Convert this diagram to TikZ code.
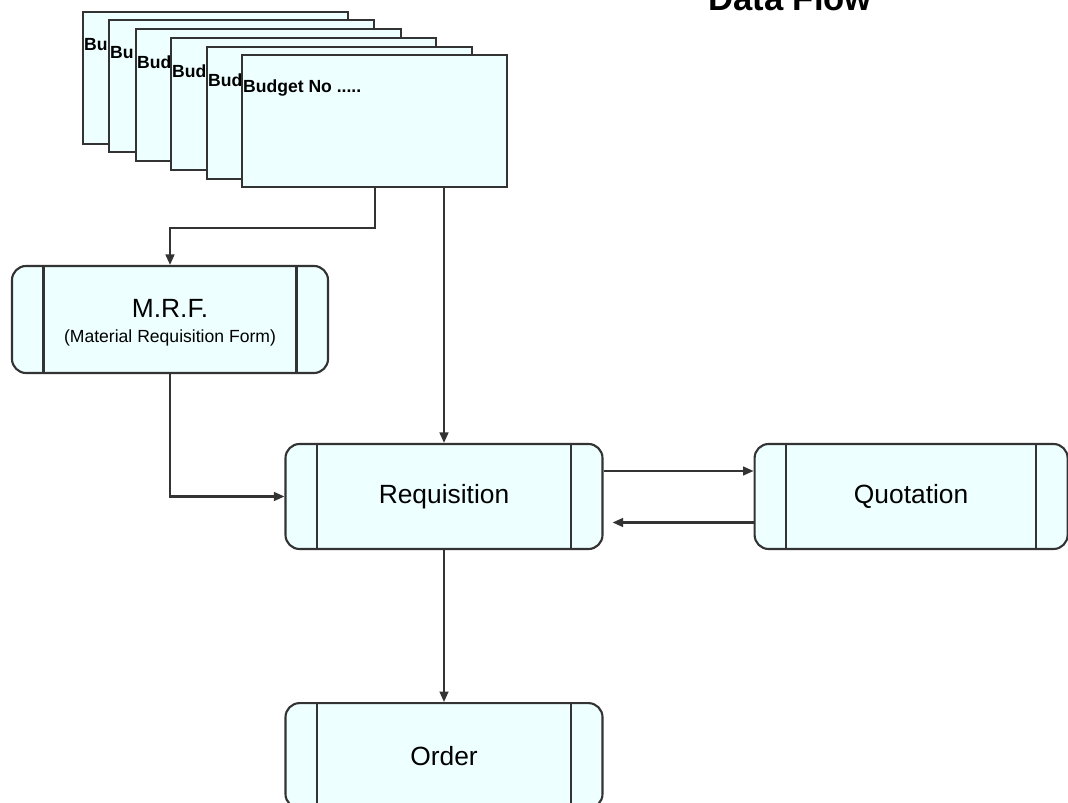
\documentclass[tikz,border=0pt]{standalone}
\usepackage{fontspec}
\setmainfont{Liberation Sans}
\usetikzlibrary{arrows.meta, positioning}
\definecolor{boxfill}{HTML}{EEFFFF}
\definecolor{boxline}{HTML}{333333}
\newcommand{\budgetno}{Budget No .....}

\begin{document}
\begin{tikzpicture}[
  every node/.style = {font=\fontsize{15}{18}\selectfont},
  sheet/.style = {
    rectangle, draw=boxline, fill=boxfill, line width=1.2pt,
    minimum width=5.3cm, minimum height=2.64cm,
    anchor=north west, inner sep=0pt
  },
  sheetlabel/.style = {anchor=west, inner sep=1pt, font=\bfseries\fontsize{10}{12}\selectfont},
  process/.style = {
    rectangle, rounded corners=8pt,
    draw=boxline, fill=boxfill, line width=1.2pt,
    minimum width=6.34cm, minimum height=2.1cm, align=center,
    path picture={\draw[boxline, line width=1.2pt]
      ([xshift=0.63cm]path picture bounding box.north west) -- ([xshift=0.63cm]path picture bounding box.south west)
      ([xshift=-0.63cm]path picture bounding box.north east) -- ([xshift=-0.63cm]path picture bounding box.south east);}
  },
  arr/.style = {-{Triangle[length=6pt, width=5pt]}, line width=1.2pt, boxline}
]

\useasboundingbox (0,0) rectangle (21.36,-16.06);
\clip (0,0) rectangle (21.36,-16.06);

% Title
\node[font=\bfseries\fontsize{19.7}{24}\selectfont, anchor=base] (title) at (15.8,-0.22) {Data Flow};

% Stack of budget sheets
\foreach \i/\x/\y/\txt in {1/1.64/-0.22/Bu, 2/2.16/-0.38/Bu, 3/2.70/-0.56/Bud,
                           4/3.40/-0.74/Bud, 5/4.12/-0.92/Bud, 6/4.82/-1.08/\budgetno}{
  \node[sheet] (sheet\i) at (\x,\y) {};
  \node[sheetlabel] (sheetlabel\i) at ([yshift=-0.68cm]sheet\i.north west) {\txt};
}

% Nodes
\node[process] (req) at (8.88,-9.93) {Requisition};
\node[process, right=3cm of req, minimum width=6.26cm] (quot) {Quotation};
\node[process, below=3.04cm of req] (order) {Order};
\node[process, minimum width=6.32cm, minimum height=2.14cm] (mrf) at (3.4,-6.39)
  {\rule{0pt}{14pt}M.R.F.\\[-4pt]{\fontsize{10}{12}\selectfont (Material Requisition Form)}};

% Arrows
\draw[arr] (sheet6.south) -- ++(0,-0.8) -| (mrf.north);
\draw[arr] (req.north |- sheet6.south) -- (req.north);
\draw[arr] (mrf.south) |- (req.west);
\draw[arr] ([yshift=0.51cm]req.east) -- ([yshift=0.51cm]quot.west);
\draw[arr, shorten >=0.18cm] ([yshift=-0.52cm]quot.west) -- ([yshift=-0.52cm]req.east);
\draw[arr] (req.south) -- (order.north);

\end{tikzpicture}
\end{document}
